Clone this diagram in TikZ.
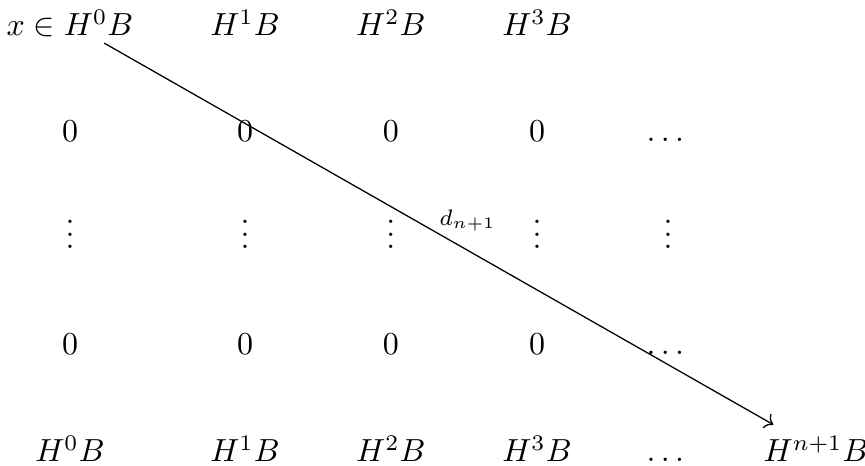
\documentclass[tikz,border=0pt]{standalone}
\usepackage{amsmath}
\usetikzlibrary{arrows.meta}

\begin{document}
\begin{tikzpicture}[entry/.style={anchor=base}]
            \useasboundingbox (0,0) rectangle (9.515,5.126);
            % Top row
            \node[entry] (t0) at (0.77,4.73) {$x \in H^0B$};
            \node[entry] (t1) at (2.695,4.73) {$H^1B$};
            \node[entry] (t2) at (4.30,4.73) {$H^2B$};
            \node[entry] (t3) at (5.907,4.73) {$H^3B$};
            % Rows of zeros and dots
            \foreach \c/\x in {0/0.77, 1/2.695, 2/4.30, 3/5.907} {
               \node[entry] (za\c) at (\x,3.564) {$0$};
               \node[entry] (v\c) at (\x,2.387) {$\vdots$};
               \node[entry] (zb\c) at (\x,1.221) {$0$};
            }
            \node[entry] (za4) at (7.348,3.564) {$\dots$};
            \node[entry] (v4) at (7.348,2.387) {$\vdots$};
            \node[entry] (zb4) at (7.348,1.221) {$\dots$};
            % Bottom row
            \node[entry] (b0) at (0.77,0.044) {$H^0B$};
            \node[entry] (b1) at (2.695,0.044) {$H^1B$};
            \node[entry] (b2) at (4.30,0.044) {$H^2B$};
            \node[entry] (b3) at (5.907,0.044) {$H^3B$};
            \node[entry] (b4) at (7.348,0.044) {$\dots$};
            \node[entry] (b5) at (8.976,0.044) {$H^{n+1}B$};
            % Differential
            \draw[->, shorten <=-1.2mm] (t0) -- (b5)
               node[midway, anchor=south west, inner sep=1.5pt, xshift=-3pt, font=\scriptsize] {$d_{n+1}$};
\end{tikzpicture}
\end{document}
